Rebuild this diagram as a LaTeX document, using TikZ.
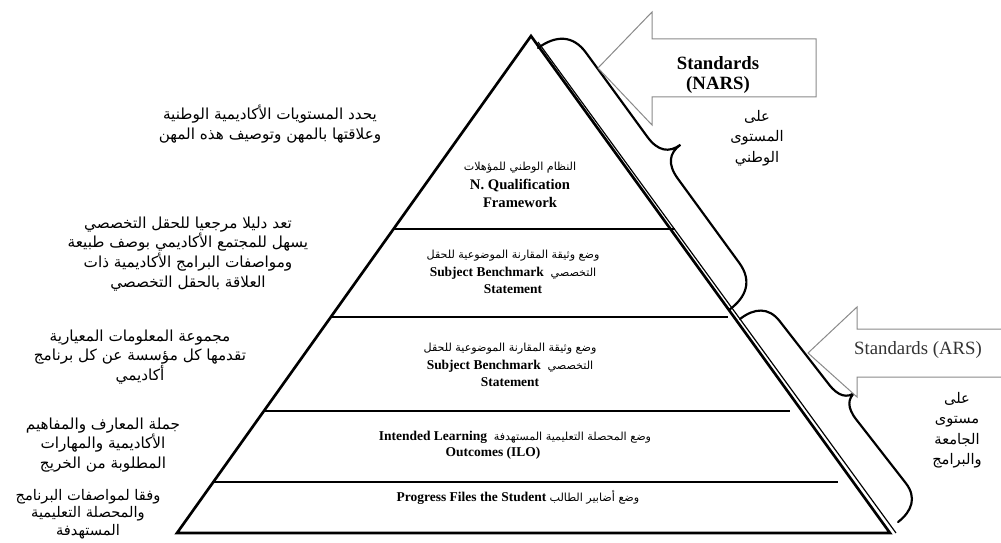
\documentclass[tikz,border=0pt]{standalone}
\usepackage{fontspec}
\setmainfont{Liberation Serif}
\newfontfamily\arabicfont[Script=Arabic]{DejaVu Sans}
\TeXXeTstate=1
\newcommand\layerar{\arabicfont\mdseries\fontsize{9.5}{11}\selectfont}
\usepackage{tikz}
\usetikzlibrary{calc}
\definecolor{ink}{HTML}{000000}
\definecolor{frame}{HTML}{8A8A8A}
\definecolor{soft}{HTML}{333333}
\tikzset{
  edge/.style={draw=ink, line width=0.8mm, line join=miter},
  tier/.style={draw=ink, line width=0.75mm},
  shade/.style={draw=ink, line width=0.35mm},
  bracket/.style={draw=ink, line width=0.65mm, line cap=round},
  blockarrow/.style={draw=frame, line width=0.3mm, fill=white, line join=miter},
  side/.style={font=\arabicfont\fontsize{13}{17}\selectfont, align=center, inner sep=0pt},
  note/.style={font=\arabicfont\fontsize{12.5}{17.5}\selectfont, align=center, inner sep=0pt},
  layer/.style={font=\fontsize{11.5}{15}\selectfont\bfseries, align=center, inner sep=0pt},
  flag/.style={font=\fontsize{16}{17}\selectfont\bfseries, align=center, inner sep=0pt},
  flagr/.style={font=\fontsize{16}{17}\selectfont, text=soft, inner sep=0pt},
}
\begin{document}
\begin{tikzpicture}[x=0.3mm,y=-0.3mm]
  \useasboundingbox (0,0) rectangle (1001,543);
  \coordinate (apex) at (531,36);
  \coordinate (bl) at (177,533);
  \coordinate (br) at (890,533);
  % pyramid and its layers
  \draw[edge] (bl) -- (apex) -- (br) -- cycle;
  \draw[shade] (538,42) -- (896,533);
  \draw[tier] (394,229) -- (675,229);
  \draw[tier] (331,317) -- (728,317);
  \draw[tier] (265,411) -- (790,411);
  \draw[tier] (213,482) -- (838,482);
  \node[layer, font=\fontsize{12.5}{15.5}\selectfont\bfseries] (nqf) at (520,185) {{\layerar\beginR النظام الوطني للمؤهلات\endR}\\N. Qualification\\Framework};
  \node[layer] (sbs1) at (513,272) {{\layerar\beginR وضع وثيقة المقارنة الموضوعية للحقل\endR}\\Subject Benchmark\ \ {\layerar\beginR التخصصي\endR}\\Statement};
  \node[layer] (sbs2) at (510,365) {{\layerar\beginR وضع وثيقة المقارنة الموضوعية للحقل\endR}\\Subject Benchmark\ \ {\layerar\beginR التخصصي\endR}\\Statement};
  \node[layer] (ilo) at (515,437) {Intended Learning\ \ {\layerar\beginR وضع المحصلة التعليمية المستهدفة\endR}};
  \node[layer] (ilob) at (493,453) {Outcomes (ILO)};
  \node[layer] (pfs) at (518,497) {Progress Files the Student\ {\layerar\beginR وضع أضابير الطالب\endR}};
  % texts on the left
  \node[side] (t1) at (270,124) {\beginR يحدد المستويات الأكاديمية الوطنية\endR\\\beginR وعلاقتها بالمهن وتوصيف هذه المهن\endR};
  \node[side] (t2) at (188,254) {\beginR تعد دليلا مرجعيا للحقل التخصصي\endR\\\beginR يسهل للمجتمع الأكاديمي بوصف طبيعة\endR\\\beginR ومواصفات البرامج الأكاديمية ذات\endR\\\beginR العلاقة بالحقل التخصصي\endR};
  \node[side] (t3) at (140,357) {\beginR مجموعة المعلومات المعيارية\endR\\\beginR تقدمها كل مؤسسة عن كل برنامج\endR\\\beginR أكاديمي\endR};
  \node[side] (t4) at (103,445) {\beginR جملة المعارف والمفاهيم\endR\\\beginR الأكاديمية والمهارات\endR\\\beginR المطلوبة من الخريج\endR};
  \node[side, font=\arabicfont\fontsize{12.5}{15}\selectfont] (t5) at (88,514) {\beginR وفقا لمواصفات البرنامج\endR\\\beginR والمحصلة التعليمية\endR\\\beginR المستهدفة\endR};
  % braces, drawn along the right edge
  \coordinate (nTop) at (538,48);
  \coordinate (aTop) at (740,319);
  \pgfmathsetmacro{\Ln}{324.2}
  \pgfmathsetmacro{\La}{257.3}
  \begin{scope}[shift={(nTop)}, rotate=-53.9, x=0.3mm, y=0.3mm]
    \draw[bracket] (0,0) .. controls (0,22) and (10,36) .. (32,36) -- (\Ln/2-26,36)
      .. controls (\Ln/2-8,36) and (\Ln/2,44) .. (\Ln/2,58)
      .. controls (\Ln/2,44) and (\Ln/2+8,36) .. (\Ln/2+26,36) -- (\Ln-32,36)
      .. controls (\Ln-10,36) and (\Ln,22) .. (\Ln,0);
  \end{scope}
  \begin{scope}[shift={(aTop)}, rotate=-52.1, x=0.3mm, y=0.3mm]
    \draw[bracket] (0,0) .. controls (0,18) and (8,30) .. (26,30) -- (\La/2-22,30)
      .. controls (\La/2-7,30) and (\La/2,36) .. (\La/2,46)
      .. controls (\La/2,36) and (\La/2+7,30) .. (\La/2+22,30) -- (\La-26,30)
      .. controls (\La-8,30) and (\La,18) .. (\La,0);
  \end{scope}
  % standards arrows
  \draw[blockarrow] (598,68) -- (652,12) -- (652,39) -- (816,39) -- (816,97) -- (652,97) -- (652,125) -- cycle;
  \node[flag] (nars) at (718,75) {Standards\\(NARS)};
  \draw[blockarrow] (1010,377) -- (857,377) -- (857,397) -- (808,353) -- (857,307) -- (857,329) -- (1010,329);
  \node[flagr] (ars) at (918,350) {Standards (ARS)};
  \node[note] (natl) at (757,138) {\beginR على\endR\\\beginR المستوى\endR\\\beginR الوطني\endR};
  \node[note] (univ) at (957,430) {\beginR على\endR\\\beginR مستوى\endR\\\beginR الجامعة\endR\\\beginR والبرامج\endR};
\end{tikzpicture}
\end{document}
